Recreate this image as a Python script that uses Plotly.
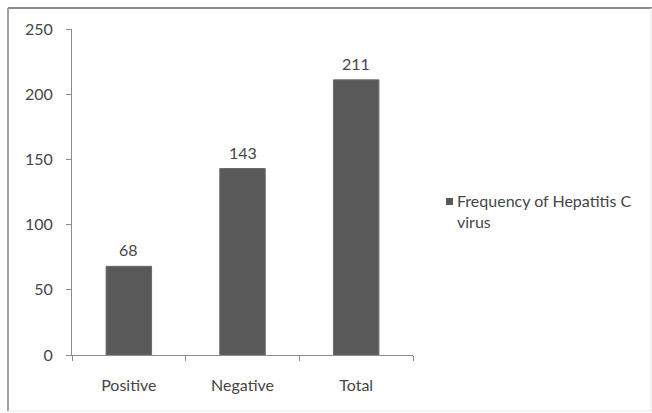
import plotly.graph_objects as go

categories = ["Positive", "Negative", "Total"]
frequency = [68, 143, 211]
y_ticks = [0, 50, 100, 150, 200, 250]
series_name = "Frequency of Hepatitis C virus"

W, H = 652, 413
L, R, T, B = 72, 239, 29, 58
pw, ph = W - L - R, H - T - B

def px_x(x):
    return (x - L) / pw

def px_y(y):
    return (H - B - y) / ph

bar_color = "#595959"
text_color = "#464646"
axis_color = "#8c8c8c"
font_family = "Lato, 'Open Sans', sans-serif"
fs = 16

fig = go.Figure()
fig.add_trace(go.Bar(
    x=categories, y=frequency, name=series_name,
    marker=dict(color=bar_color, line=dict(color="#6a6a6a", width=1)),
    width=0.4, showlegend=False,
))

# value labels above each bar
for c, v in zip(categories, frequency):
    fig.add_annotation(x=c, y=v, text=str(v), showarrow=False,
                       yanchor="bottom", yshift=5,
                       font=dict(size=fs, color=text_color, family=font_family))

# legend: small square and wrapped label
fig.add_shape(type="rect", xref="paper", yref="paper",
              x0=px_x(446), x1=px_x(453), y0=px_y(205), y1=px_y(198),
              fillcolor=bar_color, line=dict(width=0))
fig.add_annotation(xref="paper", yref="paper", x=px_x(455), y=px_y(189),
                   xanchor="left", yanchor="top", align="left", showarrow=False,
                   text="Frequency of Hepatitis C<br><span style='line-height:1'>virus</span>",
                   font=dict(size=fs, color=text_color, family=font_family))

# chart frame
fig.add_shape(type="line", xref="paper", yref="paper",
              x0=px_x(8), x1=px_x(652), y0=px_y(8), y1=px_y(8),
              line=dict(color="#8a8a8a", width=2))
fig.add_shape(type="line", xref="paper", yref="paper",
              x0=px_x(8), x1=px_x(8), y0=px_y(8), y1=px_y(411),
              line=dict(color="#a0a0a0", width=2))
fig.add_shape(type="line", xref="paper", yref="paper",
              x0=px_x(8), x1=px_x(652), y0=px_y(411), y1=px_y(411),
              line=dict(color="#e6e6e6", width=1))
fig.add_shape(type="line", xref="paper", yref="paper",
              x0=px_x(651), x1=px_x(651), y0=px_y(8), y1=px_y(411),
              line=dict(color="#e6e6e6", width=1))

fig.update_layout(
    width=W, height=H,
    margin=dict(l=L, r=R, t=T, b=B, pad=0),
    paper_bgcolor="white", plot_bgcolor="white",
    font=dict(family=font_family, size=fs, color=text_color),
    bargap=0.6,
)
fig.update_xaxes(
    type="category", showline=True, linecolor=axis_color, linewidth=1,
    ticks="outside", tickson="boundaries", ticklen=5, tickcolor=axis_color,
    ticklabelstandoff=16, showgrid=False, zeroline=False,
    tickfont=dict(size=fs, color=text_color),
)
fig.update_yaxes(
    range=[0, 250], tickvals=y_ticks, showline=True, linecolor=axis_color,
    linewidth=1, ticks="outside", ticklen=5, tickcolor=axis_color,
    ticklabelstandoff=10, showgrid=False, zeroline=False,
    tickfont=dict(size=fs, color=text_color),
)

fig.write_html("out.html")
